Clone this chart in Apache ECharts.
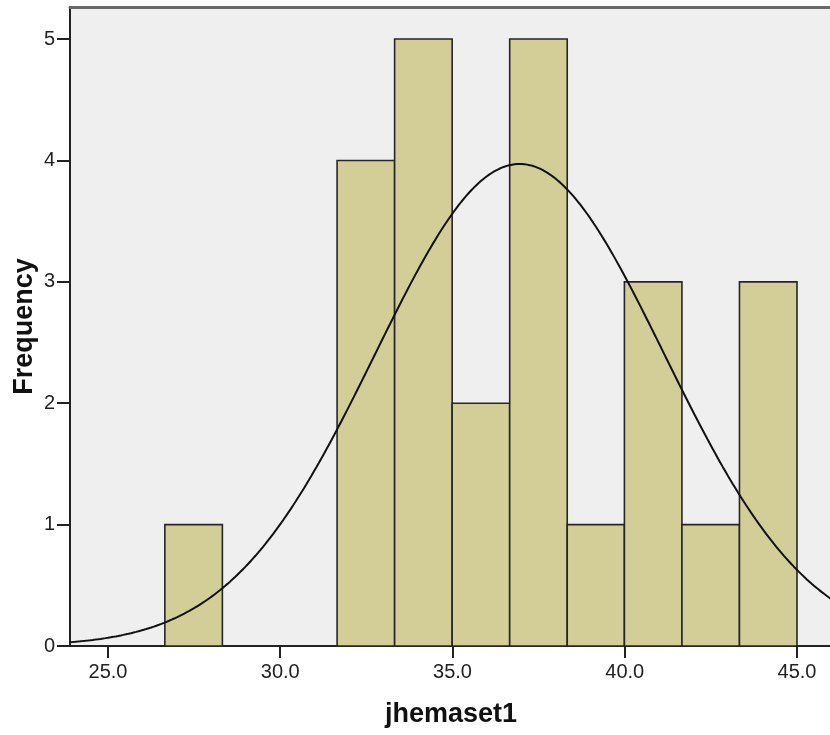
<!DOCTYPE html>
<html>
<head>
<meta charset="utf-8">
<script src="https://cdn.jsdelivr.net/npm/echarts@6/dist/echarts.min.js"></script>
<style>
  html, body { margin: 0; padding: 0; background: #ffffff; }
  #chart { width: 830px; height: 735px; }
</style>
</head>
<body>
<div id="chart"></div>
<script>
// Histogram of jhemaset1 with a fitted normal curve
const binEdges = [26.65, 28.32, 29.98, 31.65, 33.32, 34.99, 36.66, 38.33, 39.99, 41.66, 43.33, 45.00];
const frequencies = [1, 0, 0, 4, 5, 2, 5, 1, 3, 1, 3];
const xTickValues = [25, 30, 35, 40, 45];
const yTickValues = [0, 1, 2, 3, 4, 5];

// Normal fit parameters
const fitMean = 36.95;
const fitStdDev = 4.19;
const sampleSize = 25;

const xMin = 23.897, xMax = 46.016;
const yMin = 0, yMax = 5.264;

const binWidth = (binEdges[binEdges.length - 1] - binEdges[0]) / frequencies.length;
const barData = frequencies.map((f, i) => [binEdges[i], binEdges[i + 1], f]);

const curveData = [];
const steps = 300;
for (let i = 0; i <= steps; i++) {
  const x = xMin + (xMax - xMin) * i / steps;
  const z = (x - fitMean) / fitStdDev;
  const y = sampleSize * binWidth / (fitStdDev * Math.sqrt(2 * Math.PI)) * Math.exp(-0.5 * z * z);
  curveData.push([x, y]);
}

const chart = echarts.init(document.getElementById('chart'), null, { renderer: 'canvas' });
const tickFont = { fontFamily: 'Liberation Sans', fontSize: 20, color: '#222' };
const nameFont = { fontFamily: 'Liberation Sans', fontWeight: 'bold', fontSize: 27, color: '#111' };

chart.setOption({
  animation: false,
  backgroundColor: '#ffffff',
  grid: {
    left: 70, right: -2, top: 7, bottom: 89,
    outerBoundsMode: 'none',
    containLabel: false,
    show: true, backgroundColor: '#efefef', borderWidth: 0
  },
  xAxis: [{
    type: 'value', min: xMin, max: xMax,
    name: 'jhemaset1', nameLocation: 'middle', nameGap: 55, nameMoveOverlap: false,
    nameTextStyle: nameFont,
    axisLine: { show: true, lineStyle: { color: '#222', width: 2 } },
    axisTick: { show: true, length: 12, customValues: xTickValues, lineStyle: { color: '#222', width: 2 } },
    axisLabel: { customValues: xTickValues, margin: 16, formatter: v => v.toFixed(1), ...tickFont },
    splitLine: { show: false }
  }, {
    type: 'value', position: 'top', min: xMin, max: xMax,
    axisLine: { show: true, lineStyle: { color: '#6a6a6a', width: 3 } },
    axisTick: { show: false }, axisLabel: { show: false }, splitLine: { show: false }
  }],
  yAxis: {
    type: 'value', min: yMin, max: yMax,
    name: 'Frequency', nameLocation: 'middle', nameGap: 32, nameRotate: 90, nameMoveOverlap: false,
    nameTextStyle: nameFont,
    axisLine: { show: true, lineStyle: { color: '#222', width: 2 } },
    axisTick: { show: true, length: 13, customValues: yTickValues, lineStyle: { color: '#222', width: 2 } },
    axisLabel: { customValues: yTickValues, margin: 15, ...tickFont },
    splitLine: { show: false }
  },
  series: [{
    type: 'custom',
    data: barData,
    encode: { x: [0, 1], y: 2 },
    renderItem: function (params, api) {
      const lo = api.value(0), hi = api.value(1), f = api.value(2);
      if (f <= 0) return null;
      const p0 = api.coord([lo, f]);
      const p1 = api.coord([hi, 0]);
      return {
        type: 'rect',
        shape: { x: p0[0], y: p0[1], width: p1[0] - p0[0], height: p1[1] - p0[1] },
        style: { fill: '#d3ce97', stroke: '#262626', lineWidth: 1.6 }
      };
    },
    z: 2
  }, {
    type: 'line',
    data: curveData,
    showSymbol: false,
    symbol: 'none',
    lineStyle: { color: '#111', width: 2 },
    clip: true,
    z: 3
  }]
});
</script>
</body>
</html>
